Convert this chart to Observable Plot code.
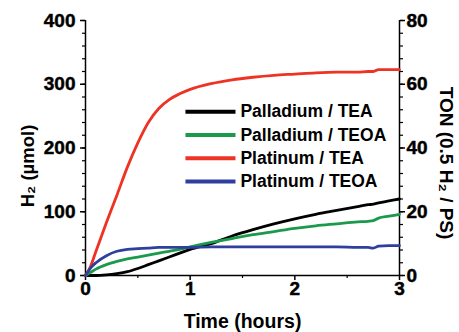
<!DOCTYPE html>
<html>
<head>
<meta charset="utf-8">
<script src="https://cdn.jsdelivr.net/npm/d3@7"></script>
<script src="https://cdn.jsdelivr.net/npm/@observablehq/plot@0.6"></script>
<style>
  html, body { margin: 0; padding: 0; background: #ffffff; }
  #chart svg { display: block; }
  #chart svg text { font-weight: bold; }
  #chart svg g[aria-label$="tick label"] text { stroke: #000; stroke-width: 0.45px; }
</style>
</head>
<body>
<div id="chart"></div>
<script>
// ---- Data ----
const times = [0, 0.05, 0.1, 0.2, 0.3, 0.4, 0.5, 0.6, 0.7, 0.8, 0.9, 1.0, 1.2, 1.4, 1.6, 1.8, 2.0, 2.2, 2.4, 2.6, 2.7, 2.75, 2.8, 2.9, 3.0];
const palladiumTEA  = [0, 0, 0, 1, 3, 6, 11, 17, 23, 29, 35, 41, 50, 62, 72, 81, 89, 96, 102, 108, 111, 112, 114, 117, 120];
const palladiumTEOA = [0, 5, 10, 17, 22, 26, 29, 32, 35, 38, 41, 45, 52, 58, 64, 69, 74, 78, 81, 84, 85, 86, 90, 93, 96];
const platinumTEA   = [0, 15, 38, 83, 126, 170, 208, 240, 262, 276, 285, 292, 301, 307, 311, 314, 316, 318, 319, 319, 320, 320, 323, 323, 323];
const platinumTEOA  = [0, 12, 20, 31, 38, 41, 42, 43, 44, 44, 44, 44, 45, 45, 45, 45, 45, 45, 45, 44, 44, 43, 46, 47, 47];

const seriesNames = ["Palladium / TEA", "Palladium / TEOA", "Platinum / TEA", "Platinum / TEOA"];
const seriesValues = [palladiumTEA, palladiumTEOA, platinumTEA, platinumTEOA];

const xTicks = [0, 1, 2, 3];
const xMinorTicks = [0.5, 1.5, 2.5];
const yTicks = [0, 100, 200, 300, 400];
const tonTicks = [0, 20, 40, 60, 80];
const tonPerH2 = 0.2; // TON = 0.5 H2 / PS scale factor: 400 µmol ↔ 80

const xLabel = "Time (hours)";
const yLabel = "H₂ (µmol)";
const y2Label = "TON (0.5 H₂ / PS)";

// ---- Build table ----
const rows = [];
seriesNames.forEach((name, i) => {
  times.forEach((t, j) => rows.push({series: name, t, v: seriesValues[i][j]}));
});

const colors = ["#000000", "#1b9a4b", "#ee3224", "#2e3f9e"];
const font = "'Liberation Sans', Arial, Helvetica, sans-serif";

// legend layout in data space (inside the plot)
const legendX1 = 0.955, legendX2 = 1.433, legendTextX = 1.48;
const legendTop = 257, legendStep = 36.5;
const legend = seriesNames.map((name, i) => ({series: name, y: legendTop - i * legendStep}));

const yMinor = d3.range(0, 401, 20);

const chart = Plot.plot({
  width: 459,
  height: 332,
  marginLeft: 85,
  marginRight: 60,
  marginTop: 20,
  marginBottom: 57,
  style: {fontFamily: font, fontWeight: "bold", fontSize: "19px", color: "#000", background: "#fff"},
  x: {domain: [0, 3]},
  y: {domain: [0, 400]},
  color: {domain: seriesNames, range: colors},
  marks: [
    // minor ticks
    Plot.axisY(yMinor, {anchor: "left", tickSize: 3, tickFormat: () => "", label: null, strokeWidth: 1.2}),
    Plot.axisY(yMinor, {anchor: "right", tickSize: 3, tickFormat: () => "", label: null, strokeWidth: 1.2}),
    Plot.axisX(xMinorTicks, {tickSize: 3, tickFormat: () => "", label: null, strokeWidth: 1.2}),
    // major ticks
    Plot.axisY(yTicks, {anchor: "left", tickSize: 5, tickPadding: 5, label: null, strokeWidth: 1.5, fontSize: 19}),
    Plot.axisY(tonTicks.map(d => d / tonPerH2), {anchor: "right", tickSize: 5, tickPadding: 2, tickFormat: d => String(Math.round(d * tonPerH2)), label: null, strokeWidth: 1.5, fontSize: 19}),
    Plot.axisX(xTicks, {tickSize: 5, tickPadding: 1, label: null, strokeWidth: 1.5, fontSize: 19}),
    // spines
    Plot.ruleX([0, 3], {stroke: "#000", strokeWidth: 1.5}),
    Plot.ruleY([0], {stroke: "#000", strokeWidth: 1.5}),
    // data
    Plot.line(rows, {x: "t", y: "v", stroke: "series", z: "series", strokeWidth: 2.8, curve: "monotone-x"}),
    // legend
    Plot.link(legend, {x1: () => legendX1, x2: () => legendX2, y1: "y", y2: "y", stroke: "series", strokeWidth: 4}),
    Plot.text(legend, {x: () => legendTextX, y: "y", text: "series", textAnchor: "start", fontSize: 17.5, fill: "#000"}),
    // axis titles
    Plot.text([yLabel], {frameAnchor: "left", textAnchor: "middle", dx: -57, dy: 18, rotate: -90, text: d => d, fontSize: 18.5, fill: "#000"}),
    Plot.text([y2Label], {frameAnchor: "right", textAnchor: "middle", dx: 47, dy: 15, rotate: 90, text: d => d, fontSize: 19, fill: "#000"}),
    Plot.text([xLabel], {frameAnchor: "bottom", textAnchor: "middle", dy: 52, text: d => d, fontSize: 19.5, fill: "#000"})
  ]
});
document.getElementById("chart").append(chart);
</script>
</body>
</html>
